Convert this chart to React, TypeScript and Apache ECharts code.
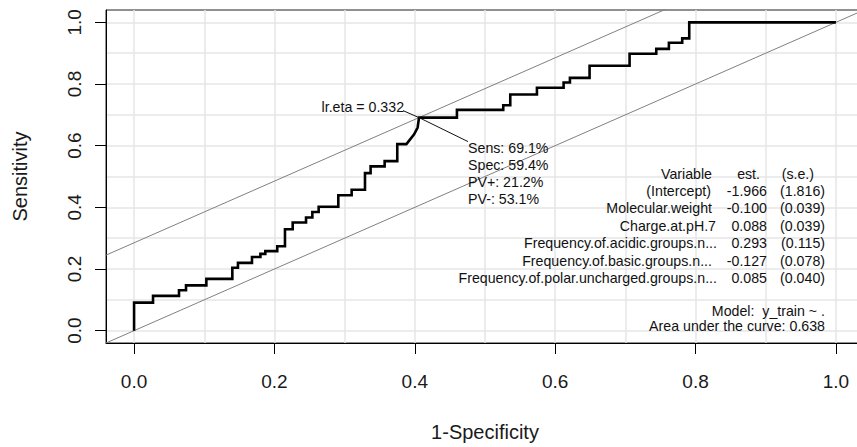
import React, { useEffect, useRef } from 'react';
import * as echarts from 'echarts';

// ROC curve vertices: 1-Specificity (fpr) and Sensitivity (tpr)
const fpr = [
  0, 0, 0.027, 0.027, 0.064, 0.064, 0.074, 0.074, 0.103, 0.103, 0.14, 0.14,
  0.148, 0.148, 0.168, 0.168, 0.18, 0.18, 0.187, 0.187, 0.204, 0.204, 0.215, 0.215,
  0.226, 0.226, 0.245, 0.245, 0.254, 0.254, 0.263, 0.263, 0.291, 0.291, 0.31, 0.31,
  0.329, 0.329, 0.337, 0.337, 0.357, 0.357, 0.375, 0.375, 0.388, 0.399, 0.404, 0.406,
  0.46, 0.46, 0.526, 0.526, 0.536, 0.536, 0.574, 0.574, 0.612, 0.612, 0.621, 0.621,
  0.649, 0.649, 0.706, 0.706, 0.744, 0.744, 0.762, 0.762, 0.781, 0.781, 0.791, 0.791, 1.0,
];
const tpr = [
  0, 0.091, 0.091, 0.113, 0.113, 0.131, 0.131, 0.147, 0.147, 0.168, 0.168, 0.204,
  0.204, 0.22, 0.22, 0.239, 0.239, 0.249, 0.249, 0.258, 0.258, 0.274, 0.274, 0.329,
  0.329, 0.351, 0.351, 0.367, 0.367, 0.385, 0.385, 0.402, 0.402, 0.439, 0.439, 0.457,
  0.457, 0.511, 0.511, 0.533, 0.533, 0.55, 0.55, 0.605, 0.605, 0.637, 0.659, 0.691,
  0.691, 0.716, 0.716, 0.731, 0.731, 0.766, 0.766, 0.788, 0.788, 0.805, 0.805, 0.82,
  0.82, 0.859, 0.859, 0.898, 0.898, 0.914, 0.914, 0.934, 0.934, 0.948, 0.948, 1.0, 1.0,
];

const axisTicks = [0, 0.2, 0.4, 0.6, 0.8, 1.0];
const gridValues = [0, 0.1, 0.2, 0.3, 0.4, 0.5, 0.6, 0.7, 0.8, 0.9, 1.0];
const axisMin = -0.04;
const axisMax = 1.04;

const optimumFpr = 0.406;
const optimumSens = 0.691;
const cutoffLabel = 'lr.eta = 0.332';
const statLabels = ['Sens: 69.1%', 'Spec: 59.4%', 'PV+: 21.2%', 'PV-: 53.1%'];

const tableHeader = ['Variable', 'est.', '(s.e.)'];
const variables = [
  '(Intercept)',
  'Molecular.weight',
  'Charge.at.pH.7',
  'Frequency.of.acidic.groups.n...',
  'Frequency.of.basic.groups.n...',
  'Frequency.of.polar.uncharged.groups.n...',
];
const estimates = ['-1.966', '-0.100', '0.088', '0.293', '-0.127', '0.085'];
const stdErrors = ['(1.816)', '(0.039)', '(0.039)', '(0.115)', '(0.078)', '(0.040)'];
const modelText = 'Model:  y_train ~ .';
const aucText = 'Area under the curve: 0.638';

const FONT = 'Liberation Sans, Arial, Helvetica, sans-serif';
const SMALL = 14.2;

export default function App() {
  const ref = useRef<HTMLDivElement>(null);

  useEffect(() => {
    if (!ref.current) return;
    const chart = echarts.init(ref.current, null, { renderer: 'svg' });

    const rocData = fpr.map((x, i) => [x, tpr[i]]);
    const lineThrough = (intercept: number) => [
      [axisMin - 0.1, axisMin - 0.1 + intercept],
      [axisMax + 0.1, axisMax + 0.1 + intercept],
    ];

    const labelAxisX = {
      type: 'value',
      min: axisMin,
      max: axisMax,
      position: 'bottom',
      axisLine: { show: true, onZero: false, lineStyle: { color: '#000', width: 1 } },
      axisTick: { show: true, length: 11, customValues: axisTicks, lineStyle: { color: '#000', width: 1 } },
      axisLabel: {
        customValues: axisTicks,
        formatter: (v: number) => v.toFixed(1),
        fontSize: 19,
        fontFamily: FONT,
        color: '#1a1a1a',
        margin: 29,
      },
      splitLine: { show: false },
      name: '1-Specificity',
      nameLocation: 'middle',
      nameGap: 79,
      nameTextStyle: { fontSize: 20, fontFamily: FONT, color: '#1a1a1a' },
    };
    const gridAxisX = {
      type: 'value',
      min: axisMin,
      max: axisMax,
      position: 'top',
      axisLine: { show: false },
      axisTick: { show: false, customValues: gridValues },
      axisLabel: { show: false },
      splitLine: { show: true, lineStyle: { color: '#e6e6e6', width: 1.5 } },
    };
    const labelAxisY = {
      type: 'value',
      min: axisMin,
      max: axisMax,
      position: 'left',
      axisLine: { show: true, onZero: false, lineStyle: { color: '#000', width: 1 } },
      axisTick: { show: true, length: 11, customValues: axisTicks, lineStyle: { color: '#000', width: 1 } },
      axisLabel: {
        customValues: axisTicks,
        formatter: (v: number) => v.toFixed(1),
        rotate: 90,
        fontSize: 19,
        fontFamily: FONT,
        color: '#1a1a1a',
        margin: 22,
      },
      splitLine: { show: false },
      name: 'Sensitivity',
      nameLocation: 'middle',
      nameGap: 76,
      nameTextStyle: { fontSize: 20, fontFamily: FONT, color: '#1a1a1a' },
    };
    const gridAxisY = {
      type: 'value',
      min: axisMin,
      max: axisMax,
      position: 'right',
      axisLine: { show: false },
      axisTick: { show: false, customValues: gridValues },
      axisLabel: { show: false },
      splitLine: { show: true, lineStyle: { color: '#e6e6e6', width: 1.5 } },
    };

    chart.setOption({
      animation: false,
      backgroundColor: '#fff',
      grid: {
        left: 106,
        top: 10,
        right: -7,
        bottom: 104,
        show: true,
        borderColor: '#222',
        borderWidth: 1,
        backgroundColor: 'transparent',
        containLabel: false,
        outerBoundsMode: 'none',
      },
      xAxis: [labelAxisX, gridAxisX],
      yAxis: [labelAxisY, gridAxisY],
      series: [
        {
          type: 'line',
          name: 'chance',
          data: lineThrough(0),
          symbol: 'none',
          silent: true,
          clip: true,
          lineStyle: { color: '#808080', width: 1 },
        },
        {
          type: 'line',
          name: 'tangent',
          data: lineThrough(optimumSens - optimumFpr),
          symbol: 'none',
          silent: true,
          clip: true,
          lineStyle: { color: '#808080', width: 1 },
        },
        {
          type: 'line',
          name: 'ROC',
          data: rocData,
          symbol: 'none',
          silent: true,
          clip: true,
          lineStyle: { color: '#000', width: 2.6, join: 'miter' },
          z: 5,
        },
      ],
    });

    const p = chart.convertToPixel({ xAxisIndex: 0, yAxisIndex: 0 }, [optimumFpr, optimumSens]) as number[];
    const [px, py] = p;
    const txt = (text: string, x: number, y: number, align: string) => ({
      type: 'text',
      x,
      y,
      silent: true,
      z: 10,
      style: {
        text,
        fill: '#111',
        fontSize: SMALL,
        fontFamily: FONT,
        align,
        verticalAlign: 'middle',
      },
    });

    const graphics: any[] = [];
    // cutoff label
    graphics.push({
      type: 'line',
      silent: true,
      z: 9,
      shape: { x1: px - 16, y1: py - 7, x2: px, y2: py },
      style: { stroke: '#111', lineWidth: 1 },
    });
    graphics.push(txt(cutoffLabel, px - 15, py - 11, 'right'));
    graphics.push({
      type: 'line',
      silent: true,
      z: 9,
      shape: { x1: px, y1: py, x2: px + 49, y2: py + 24 },
      style: { stroke: '#111', lineWidth: 1 },
    });
    statLabels.forEach((s, i) => graphics.push(txt(s, px + 49, py + 30.5 + i * 16.9, 'left')));

    // coefficient table
    const nameRight = [711, 712, 716, 717, 712, 717];
    const rowY0 = 173.5;
    const rowStep = 17.4;
    graphics.push(txt(tableHeader[0], 712, rowY0, 'right'));
    graphics.push(txt(tableHeader[1], 760, rowY0, 'right'));
    graphics.push(txt(tableHeader[2], 814, rowY0, 'right'));
    variables.forEach((v, i) => {
      const y = rowY0 + (i + 1) * rowStep;
      graphics.push(txt(v, nameRight[i], y, 'right'));
      graphics.push(txt(estimates[i], 767, y, 'right'));
      graphics.push(txt(stdErrors[i], 825, y, 'right'));
    });
    graphics.push(txt(modelText, 825, 310.5, 'right'));
    graphics.push(txt(aucText, 825, 326, 'right'));

    chart.setOption({ graphic: graphics });

    return () => chart.dispose();
  }, []);

  return (
    <div
      ref={ref}
      style={{ position: 'absolute', left: 0, top: 0, width: 857, height: 447, background: '#fff' }}
    />
  );
}
